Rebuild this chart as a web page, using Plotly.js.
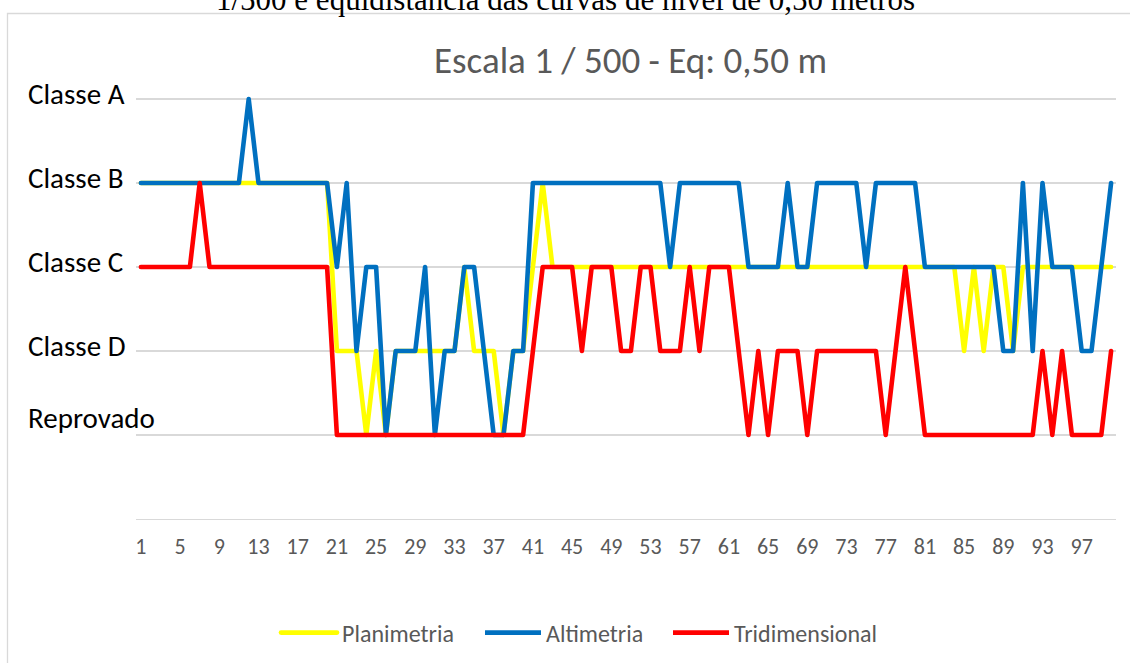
<!DOCTYPE html>
<html>
<head>
<meta charset="utf-8">
<script src="https://cdn.plot.ly/plotly-3.0.1.min.js"></script>
<style>
  html, body { margin: 0; padding: 0; background: #fff; }
  #chart { width: 1130px; height: 663px; }
  .scatterlayer path.js-line { stroke-linejoin: round; stroke-linecap: round; }
  .legend path.js-line { stroke-linecap: round; }
</style>
</head>
<body>
<div id="chart"></div>
<script>
// ---- data ----
const categories = [
  1,2,3,4,5,6,7,8,9,10,11,12,13,14,15,16,17,18,19,20,
  21,22,23,24,25,26,27,28,29,30,31,32,33,34,35,36,37,38,39,40,
  41,42,43,44,45,46,47,48,49,50,51,52,53,54,55,56,57,58,59,60,
  61,62,63,64,65,66,67,68,69,70,71,72,73,74,75,76,77,78,79,80,
  81,82,83,84,85,86,87,88,89,90,91,92,93,94,95,96,97,98,99,100
];
// levels: 1 = Reprovado, 2 = Classe D, 3 = Classe C, 4 = Classe B, 5 = Classe A
const planimetria = [
  4,4,4,4,4,4,4,4,4,4,
  4,4,4,4,4,4,4,4,4,4,
  2,2,2,1,2,1,2,2,2,2,
  2,2,2,3,2,2,2,1,2,2,
  3,4,3,3,3,3,3,3,3,3,
  3,3,3,3,3,3,3,3,3,3,
  3,3,3,3,3,3,3,3,3,3,
  3,3,3,3,3,3,3,3,3,3,
  3,3,3,3,2,3,2,3,3,2,
  3,3,3,3,3,3,3,3,3,3
];
const altimetria = [
  4,4,4,4,4,4,4,4,4,4,
  4,5,4,4,4,4,4,4,4,4,
  3,4,2,3,3,1,2,2,2,3,
  1,2,2,3,3,2,1,1,2,2,
  4,4,4,4,4,4,4,4,4,4,
  4,4,4,4,3,4,4,4,4,4,
  4,4,3,3,3,3,4,3,3,4,
  4,4,4,4,3,4,4,4,4,4,
  3,3,3,3,3,3,3,3,2,2,
  4,2,4,3,3,3,2,2,3,4
];
const tridimensional = [
  3,3,3,3,3,3,4,3,3,3,
  3,3,3,3,3,3,3,3,3,3,
  1,1,1,1,1,1,1,1,1,1,
  1,1,1,1,1,1,1,1,1,1,
  2,3,3,3,3,2,3,3,3,2,
  2,3,3,2,2,2,3,2,3,3,
  3,2,1,2,1,2,2,2,1,2,
  2,2,2,2,2,2,1,2,3,2,
  1,1,1,1,1,1,1,1,1,1,
  1,1,2,1,2,1,1,1,1,2
];
const seriesNames = ['Planimetria', 'Altimetria', 'Tridimensional'];
const levelValues = [1, 2, 3, 4, 5];
const levelLabels = ['Reprovado', 'Classe D', 'Classe C', 'Classe B', 'Classe A'];
const xTickValues = [1,5,9,13,17,21,25,29,33,37,41,45,49,53,57,61,65,69,73,77,81,85,89,93,97];
const chartTitle = 'Escala 1 / 500 - Eq: 0,50 m';
const captionText = '1/500 e equidistância das curvas de nível de 0,50 metros';

// ---- styling ----
const FONT = 'Carlito, Calibri, Lato, sans-serif';
const colors = ['#FFFF00', '#0070C0', '#FF0000'];
const seriesData = [planimetria, altimetria, tridimensional];
const legendIds = ['legend', 'legend2', 'legend3'];
const legendLeft = [276, 480, 668];   // pixel x of each legend entry

// pixel helpers for paper coordinates
const L = 136, R = 14, T = 78, B = 144, W = 1130, H = 663;
const PW = W - L - R, PH = H - T - B;
const px = (x) => (x - L) / PW;
const py = (y) => (H - B - y) / PH;

const traces = seriesData.map((vals, i) => ({
  type: 'scatter',
  mode: 'lines',
  x: categories,
  y: vals,
  name: seriesNames[i],
  legend: legendIds[i],
  line: { color: colors[i], width: 4.6 },
  hoverinfo: 'skip'
}));

const annotations = levelValues.map((v, i) => ({
  xref: 'paper', yref: 'y',
  x: px(26), y: v,
  xanchor: 'left', yanchor: 'middle',
  yshift: levelLabels[i] === 'Reprovado' ? 17 : 5,
  text: levelLabels[i],
  showarrow: false,
  font: { family: FONT, size: 29, color: '#000000' }
}));
annotations.push({
  xref: 'paper', yref: 'paper',
  x: px(565), y: py(-0.5),
  xanchor: 'center', yanchor: 'middle',
  text: captionText,
  showarrow: false,
  font: { family: '"Liberation Serif", "Times New Roman", serif', size: 31, color: '#000000' }
});

const layout = {
  width: W, height: H,
  margin: { l: L, r: R, t: T, b: B, pad: 0, autoexpand: false },
  paper_bgcolor: '#ffffff',
  plot_bgcolor: '#ffffff',
  showlegend: true,
  title: {
    text: chartTitle,
    font: { family: FONT, size: 37, color: '#595959' },
    xref: 'paper', x: px(630.5), xanchor: 'center',
    yref: 'container', y: 1 - 60 / H, yanchor: 'middle'
  },
  xaxis: {
    range: [0.5, 100.5],
    tickmode: 'array',
    tickvals: xTickValues,
    ticktext: xTickValues.map(String),
    showgrid: false,
    zeroline: false,
    showline: true,
    linecolor: '#d9d9d9',
    linewidth: 1.4,
    ticks: '',
    ticklabelstandoff: 7,
    tickfont: { family: FONT, size: 22, color: '#595959' },
    fixedrange: true
  },
  yaxis: {
    range: [0, 5.25],
    tickmode: 'array',
    tickvals: [0, 1, 2, 3, 4, 5],
    showticklabels: false,
    showgrid: true,
    gridcolor: '#d9d9d9',
    gridwidth: 1.4,
    zeroline: false,
    showline: false,
    ticks: '',
    fixedrange: true
  },
  shapes: [{
    type: 'rect', xref: 'paper', yref: 'paper', layer: 'below',
    x0: px(7.5), x1: px(1140), y0: py(13.5), y1: py(680),
    line: { color: '#d9d9d9', width: 1.3 },
    fillcolor: 'rgba(0,0,0,0)'
  }],
  annotations: annotations
};

legendIds.forEach((id, i) => {
  layout[id] = {
    orientation: 'h',
    xref: 'paper', x: px(legendLeft[i]), xanchor: 'left',
    yref: 'container', y: (H - 633) / H, yanchor: 'middle',
    itemwidth: 56,
    font: { family: FONT, size: 24, color: '#595959' },
    bgcolor: 'rgba(0,0,0,0)'
  };
});

Plotly.newPlot('chart', traces, layout, { displayModeBar: false, staticPlot: true });
</script>
</body>
</html>
